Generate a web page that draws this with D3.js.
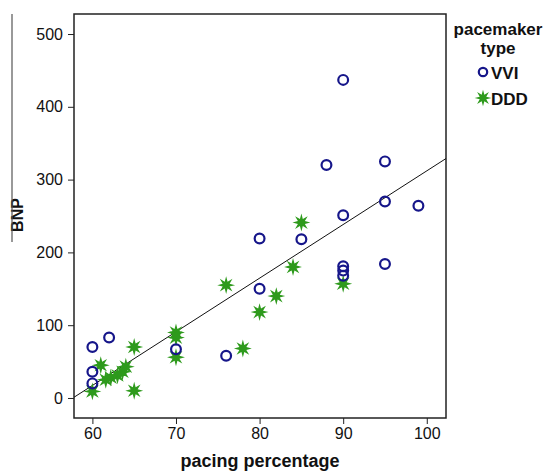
<!DOCTYPE html>
<html>
<head>
<meta charset="utf-8">
<script src="https://cdn.jsdelivr.net/npm/d3@7"></script>
<style>
  body { margin: 0; background: #fff; }
  text { font-family: "Liberation Sans", Arial, sans-serif; fill: #111; }
</style>
</head>
<body>
<svg id="chart" width="547" height="472"></svg>
<script>
// pacing percentage / BNP
var vviPacing = [60, 60, 60, 62, 70, 76, 80, 80, 85, 88, 90, 90, 90, 90, 90, 95, 95, 95, 99];
var vviBNP    = [70, 36, 20, 83, 67, 58, 219, 150, 218, 320, 437, 251, 181, 175, 168, 325, 270, 184, 264];

var dddPacing = [60, 61, 61.6, 62.2, 63, 63.6, 64, 65, 65, 70, 70, 70, 76, 78, 80, 82, 84, 85, 90];
var dddBNP    = [9, 45, 25, 28, 31, 36, 43, 70, 10, 90, 83, 56, 155, 68, 118, 140, 180, 241, 157];

// fit line: BNP = slope * pacing + intercept
var fitSlope = 7.37, fitIntercept = -425;

var xTicks = [60, 70, 80, 90, 100];
var yTicks = [0, 100, 200, 300, 400, 500];

(function() {
  var svg = d3.select("#chart");
  var pl = 74, pt = 14, pr = 446, pb = 418;

  var x = d3.scaleLinear().domain([57.8, 102.3]).range([pl, pr]);
  var y = d3.scaleLinear().domain([-27.5, 527.5]).range([pb, pt]);

  var navy = "#16168a", green = "#2e9a1c";

  // 8 pointed star for the DDD markers
  var star8 = {
    draw: function(ctx, size) {
      var ro = Math.sqrt(size) / 2, ri = ro * 0.42;
      for (var i = 0; i < 16; i++) {
        var r = i % 2 ? ri : ro, a = Math.PI * i / 8 - Math.PI / 2;
        if (i === 0) ctx.moveTo(r * Math.cos(a), r * Math.sin(a));
        else ctx.lineTo(r * Math.cos(a), r * Math.sin(a));
      }
      ctx.closePath();
    }
  };

  // axes
  svg.append("g")
    .attr("transform", "translate(0," + pb + ")")
    .call(d3.axisBottom(x).tickValues(xTicks).tickSize(6).tickPadding(4))
    .call(function(g) { g.select(".domain").remove(); })
    .selectAll("text").style("font-size", "16px");

  svg.append("g")
    .attr("transform", "translate(" + pl + ",0)")
    .call(d3.axisLeft(y).tickValues(yTicks).tickSize(6).tickPadding(5))
    .call(function(g) { g.select(".domain").remove(); })
    .selectAll("text").style("font-size", "16px");

  svg.selectAll(".tick line").attr("stroke", "#222");

  // frame
  svg.append("rect")
    .attr("x", pl).attr("y", pt)
    .attr("width", pr - pl).attr("height", pb - pt)
    .attr("fill", "none").attr("stroke", "#222").attr("stroke-width", 1.5);

  // regression line, clipped to the frame
  svg.append("clipPath").attr("id", "clip")
    .append("rect").attr("x", pl).attr("y", pt)
    .attr("width", pr - pl).attr("height", pb - pt);

  var xd = x.domain();
  svg.append("line")
    .attr("clip-path", "url(#clip)")
    .attr("x1", x(xd[0])).attr("y1", y(fitSlope * xd[0] + fitIntercept))
    .attr("x2", x(xd[1])).attr("y2", y(fitSlope * xd[1] + fitIntercept))
    .attr("stroke", "#111").attr("stroke-width", 1);

  // DDD stars
  svg.append("g").selectAll("path")
    .data(d3.range(dddPacing.length))
    .join("path")
    .attr("d", d3.symbol().type(star8).size(320))
    .attr("transform", function(i) { return "translate(" + x(dddPacing[i]) + "," + y(dddBNP[i]) + ")"; })
    .attr("fill", green);

  // VVI circles
  svg.append("g").selectAll("circle")
    .data(d3.range(vviPacing.length))
    .join("circle")
    .attr("cx", function(i) { return x(vviPacing[i]); })
    .attr("cy", function(i) { return y(vviBNP[i]); })
    .attr("r", 4.9)
    .attr("fill", "none").attr("stroke", navy).attr("stroke-width", 2.2);

  // axis titles
  svg.append("text")
    .attr("x", 260).attr("y", 467)
    .attr("text-anchor", "middle")
    .style("font-size", "18px").style("font-weight", "bold")
    .text("pacing percentage");

  svg.append("text")
    .attr("transform", "translate(23,215) rotate(-90)")
    .attr("text-anchor", "middle")
    .style("font-size", "16px").style("font-weight", "bold")
    .text("BNP");

  svg.append("path")
    .attr("d", "M12,14V242")
    .attr("stroke", "#555").attr("stroke-width", 1.2).attr("fill", "none");

  // legend
  var lg = svg.append("g");
  lg.append("text").attr("x", 498).attr("y", 35).attr("text-anchor", "middle")
    .style("font-size", "17px").style("font-weight", "bold").text("pacemaker");
  lg.append("text").attr("x", 498).attr("y", 54).attr("text-anchor", "middle")
    .style("font-size", "17px").style("font-weight", "bold").text("type");
  lg.append("circle").attr("cx", 483).attr("cy", 72).attr("r", 4.2)
    .attr("fill", "none").attr("stroke", navy).attr("stroke-width", 2.2);
  lg.append("text").attr("x", 491).attr("y", 78.5)
    .style("font-size", "17px").style("font-weight", "bold").text("VVI");
  lg.append("path").attr("d", d3.symbol().type(star8).size(280))
    .attr("transform", "translate(483,98)").attr("fill", green);
  lg.append("text").attr("x", 491).attr("y", 104.5)
    .style("font-size", "17px").style("font-weight", "bold").text("DDD");
})();
</script>
</body>
</html>
